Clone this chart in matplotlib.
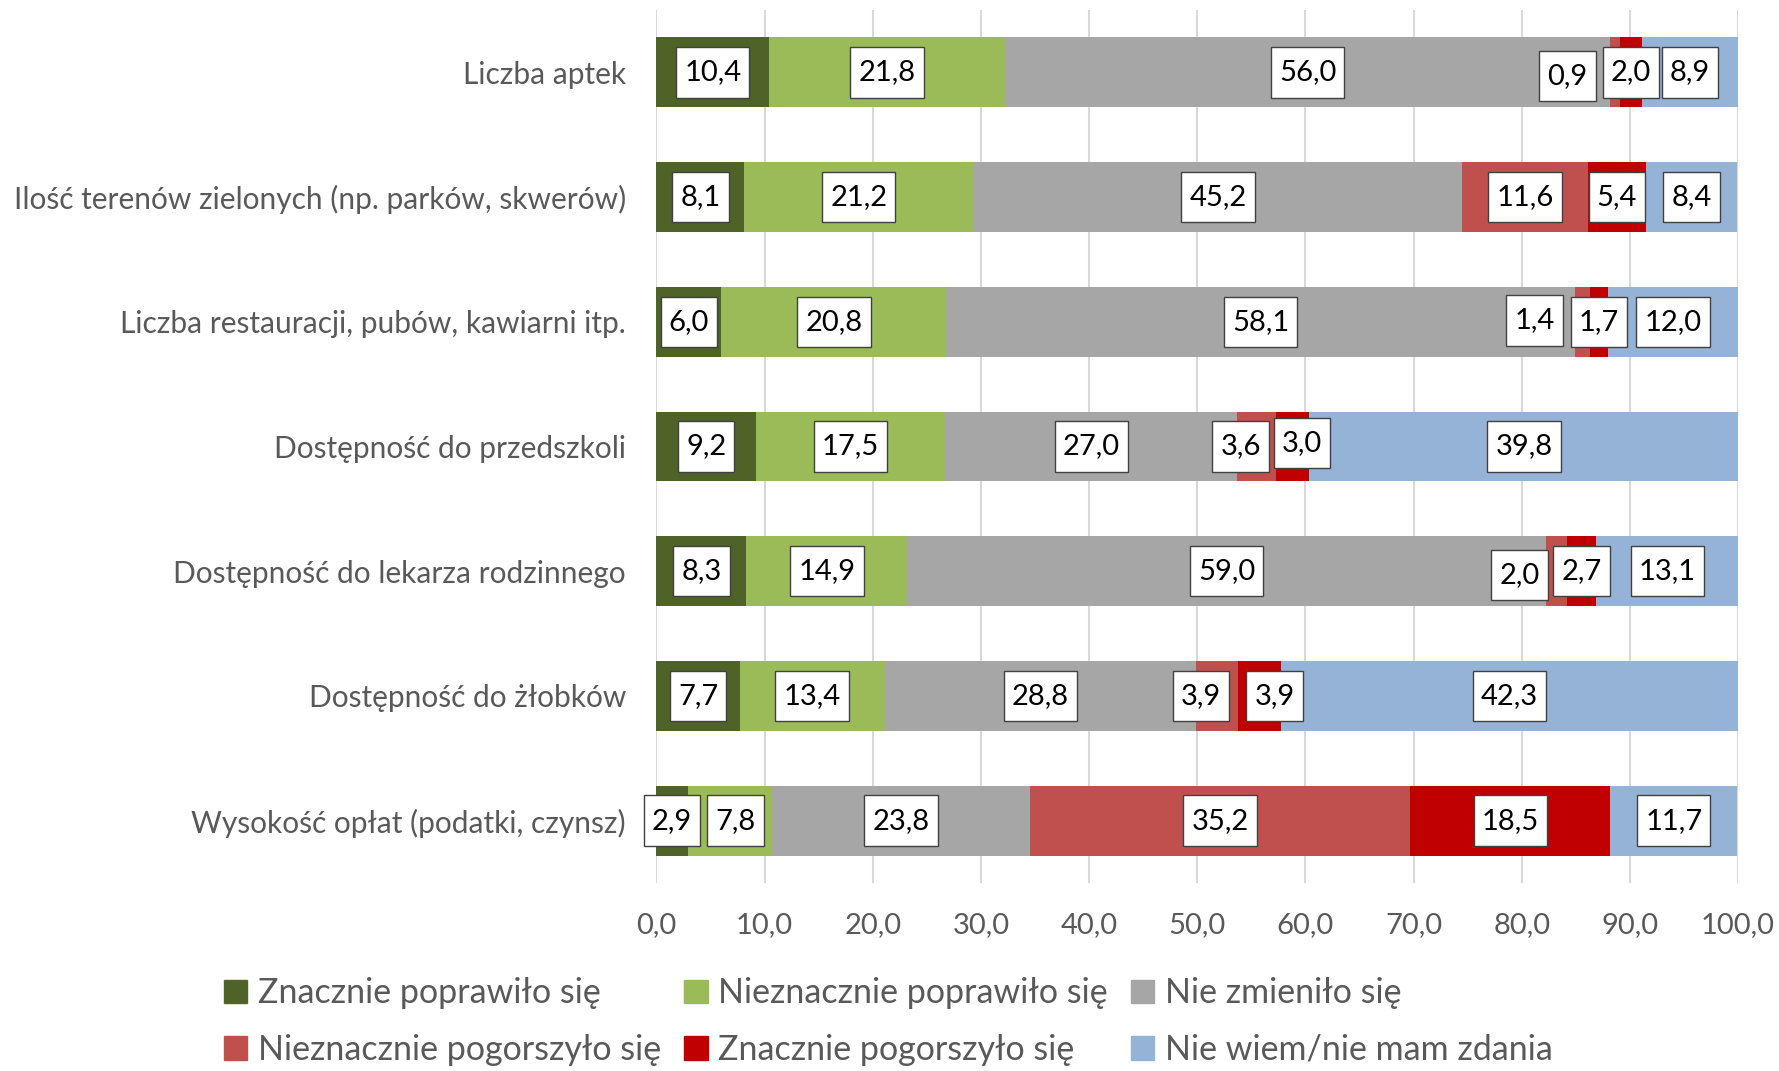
import numpy as np
import matplotlib.pyplot as plt
from matplotlib.patches import Patch
from matplotlib.path import Path

plt.rcParams['font.family'] = ['Lato', 'DejaVu Sans']

categories = [
    "Liczba aptek",
    "Ilość terenów zielonych (np. parków, skwerów)",
    "Liczba restauracji, pubów, kawiarni itp.",
    "Dostępność do przedszkoli",
    "Dostępność do lekarza rodzinnego",
    "Dostępność do żłobków",
    "Wysokość opłat (podatki, czynsz)",
]
series_names = [
    "Znacznie poprawiło się",
    "Nieznacznie poprawiło się",
    "Nie zmieniło się",
    "Nieznacznie pogorszyło się",
    "Znacznie pogorszyło się",
    "Nie wiem/nie mam zdania",
]
znacznie_lepiej = [10.4, 8.1, 6.0, 9.2, 8.3, 7.7, 2.9]
nieznacznie_lepiej = [21.8, 21.2, 20.8, 17.5, 14.9, 13.4, 7.8]
bez_zmian = [56.0, 45.2, 58.1, 27.0, 59.0, 28.8, 23.8]
nieznacznie_gorzej = [0.9, 11.6, 1.4, 3.6, 2.0, 3.9, 35.2]
znacznie_gorzej = [2.0, 5.4, 1.7, 3.0, 2.7, 3.9, 18.5]
nie_wiem = [8.9, 8.4, 12.0, 39.8, 13.1, 42.3, 11.7]

colors = ['#4F6228', '#9BBB59', '#A6A6A6', '#C0504D', '#C00000', '#95B3D7']

# label nudges (row, series) -> (dx in data units, dy in rows), like Excel's moved labels
nudges = {(0, 3): (-4.4, 0.03), (2, 3): (-4.4, -0.01), (3, 3): (-1.5, 0.0),
          (3, 4): (0.9, -0.03), (4, 3): (-3.4, 0.03), (5, 3): (-1.5, 0.0),
          (5, 4): (1.4, 0.0), (6, 1): (0.5, 0.0)}

data = np.array([znacznie_lepiej, nieznacznie_lepiej, bez_zmian,
                 nieznacznie_gorzej, znacznie_gorzej, nie_wiem])


def label_box(x0, y0, width, height, mutation_size):
    # Excel-like label box: a bit more room above/below than at the sides
    px, py = 0.28 * mutation_size, 0.42 * mutation_size
    x0, y0 = x0 - px, y0 - py
    x1, y1 = x0 + width + 2 * px, y0 + height + 2 * py
    return Path([(x0, y0), (x1, y0), (x1, y1), (x0, y1), (x0, y0)], closed=True)


fig = plt.figure(figsize=(17.79, 10.71), dpi=100)
ax = fig.add_axes([0.369, 0.1755, 0.608, 0.8152])

y = np.arange(len(categories))
left = np.zeros(len(categories))
for s in range(len(series_names)):
    ax.barh(y, data[s], left=left, height=0.56, color=colors[s], zorder=2)
    for r in range(len(categories)):
        v = data[s][r]
        dx, dy = nudges.get((r, s), (0, 0))
        ax.text(left[r] + v / 2 + dx, y[r] + dy, f"{v:.1f}".replace('.', ','),
                ha='center', va='center', fontsize=21, color='black', zorder=4,
                bbox=dict(boxstyle=label_box, fc='white', ec='#404040', lw=1))
    left += data[s]

ax.set_xlim(0, 100)
ax.set_ylim(6.5, -0.5)
ax.set_xticks(np.arange(0, 101, 10))
ax.set_xticklabels([f"{t:.1f}".replace('.', ',') for t in np.arange(0, 101, 10)])
ax.set_yticks(y)
ax.set_yticklabels(categories)
ax.grid(axis='x', color='#D9D9D9', lw=1.5, zorder=0)
ax.set_axisbelow(True)
for sp in ax.spines.values():
    sp.set_visible(False)
ax.tick_params(axis='both', length=0, labelcolor='#595959')
ax.tick_params(axis='y', pad=22, labelsize=21.5)
ax.tick_params(axis='x', pad=21, labelsize=21)

handles = [Patch(color=c) for c in colors]
order = [0, 3, 1, 4, 2, 5]
fig.legend([handles[i] for i in order], [series_names[i] for i in order],
           ncol=3, loc='center left', bbox_to_anchor=(0.126, 0.046), frameon=False,
           fontsize=24.5, labelcolor='#595959', handlelength=0.68, handleheight=0.68,
           handletextpad=0.3, columnspacing=0.7, labelspacing=0.72,
           borderpad=0, borderaxespad=0)

fig.savefig('out.png', dpi=100)
